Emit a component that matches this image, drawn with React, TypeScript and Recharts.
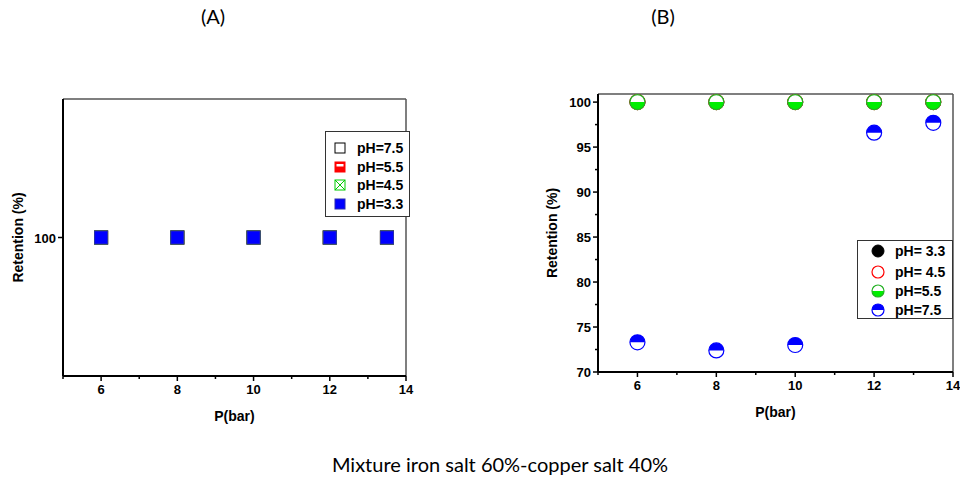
import { ScatterChart, Scatter, XAxis, YAxis, ReferenceLine, Legend, Label } from "recharts"

// pressure (bar) shared by both panels
const pressure = [6, 8, 10, 12, 13.5]
const xTicks = [5, 6, 7, 8, 9, 10, 11, 12, 13, 14]
const xLabels = [6, 8, 10, 12, 14]

// panel (A) retention (%)
const retA_pH75 = [100, 100, 100, 100, 100]
const retA_pH55 = [100, 100, 100, 100, 100]
const retA_pH45 = [100, 100, 100, 100, 100]
const retA_pH33 = [100, 100, 100, 100, 100]
const yTicksA = [100]

// panel (B) retention (%)
const retB_pH33 = [100, 100, 100, 100, 100]
const retB_pH45 = [100, 100, 100, 100, 100]
const retB_pH55 = [100, 100, 100, 100, 100]
const retB_pH75 = [73.3, 72.4, 73.0, 96.6, 97.7]
const yTicksB = [70, 72.5, 75, 77.5, 80, 82.5, 85, 87.5, 90, 92.5, 95, 97.5, 100]
const yLabelsB = [70, 75, 80, 85, 90, 95, 100]

const toPoints = (ys: number[]) => pressure.map((p, i) => ({ p, r: ys[i] }))

const boldFont = { fontFamily: "Liberation Sans, Arial, sans-serif", fontWeight: 700, fontSize: 13, fill: "#000" }
const captionFont = { fontFamily: "Lato, sans-serif", fontSize: 20, color: "#000" }

function XTick({ x, y, payload }: any) {
  const major = xLabels.includes(payload.value)
  return (
    <g>
      <line x1={x} x2={x} y1={y} y2={y + (major ? 5 : 3)} stroke="#000" strokeWidth={1.5} />
      {major && (
        <text x={x} y={y + 18} textAnchor="middle" style={boldFont}>
          {payload.value}
        </text>
      )}
    </g>
  )
}

const makeYTick = (labels: number[]) =>
  function YTick({ x, y, payload }: any) {
    const major = labels.includes(payload.value)
    return (
      <g>
        <line x1={x - (major ? 5 : 3)} x2={x} y1={y} y2={y} stroke="#000" strokeWidth={1.5} />
        {major && (
          <text x={x - 7} y={y + 5} textAnchor="end" style={boldFont}>
            {payload.value}
          </text>
        )}
      </g>
    )
  }

const yLabel = (dx: number) => ({ viewBox }: any) => {
  const cx = viewBox.x + dx
  const cy = viewBox.y + viewBox.height / 2
  return (
    <text x={cx} y={cy + 5} transform={`rotate(-90 ${cx} ${cy})`} textAnchor="middle" style={{ ...boldFont, fontSize: 14 }}>
      Retention (%)
    </text>
  )
}

const xLabel = ({ viewBox }: any) => (
  <text x={viewBox.x + viewBox.width / 2} y={viewBox.y + 45} textAnchor="middle" style={{ ...boldFont, fontSize: 14 }}>
    P(bar)
  </text>
)

// square markers (A)
const Sq = ({ cx, cy, kind, s = 13 }: any) => {
  const h = s / 2
  if (kind === "open") return <rect x={cx - h} y={cy - h} width={s} height={s} fill="#fff" stroke="#000" strokeWidth={1} />
  if (kind === "red")
    return (
      <g>
        <rect x={cx - h} y={cy - h} width={s} height={s} fill="#ff0000" stroke="#ff0000" strokeWidth={1} />
        <rect x={cx - h + 1.5} y={cy - h + 2} width={s - 3} height={s / 2 - 2.5} fill="#fff" />
      </g>
    )
  if (kind === "cross")
    return (
      <g stroke="#00cc00" strokeWidth={1} fill="#fff">
        <rect x={cx - h} y={cy - h} width={s} height={s} />
        <line x1={cx - h} y1={cy - h} x2={cx + h} y2={cy + h} />
        <line x1={cx - h} y1={cy + h} x2={cx + h} y2={cy - h} />
      </g>
    )
  return <rect x={cx - h} y={cy - h} width={s} height={s} fill="#0000ff" stroke="#2a2ab0" strokeWidth={1} />
}

// circle markers (B)
const Circ = ({ cx, cy, kind, size = 7.5 }: any) => {
  const r = size
  const top = `M${cx - r},${cy} A${r},${r} 0 0 1 ${cx + r},${cy} Z`
  const bottom = `M${cx - r},${cy} A${r},${r} 0 0 0 ${cx + r},${cy} Z`
  if (kind === "black") return <circle cx={cx} cy={cy} r={r} fill="#000" stroke="#000" />
  if (kind === "red") return <circle cx={cx} cy={cy} r={r} fill="#fff" stroke="#ff0000" strokeWidth={1.2} />
  if (kind === "green")
    return (
      <g>
        <circle cx={cx} cy={cy} r={r} fill="#fff" />
        <path d={bottom} fill="#00ee00" />
        <circle cx={cx} cy={cy} r={r} fill="none" stroke="#22b022" strokeWidth={1.2} />
      </g>
    )
  return (
    <g>
      <circle cx={cx} cy={cy} r={r} fill="#fff" />
      <path d={top} fill="#0000ff" />
      <circle cx={cx} cy={cy} r={r} fill="none" stroke="#0000ff" strokeWidth={1.2} />
    </g>
  )
}

function LegendBox({ rows, width, height, rowTops, markerX, textX }: any) {
  return (
    <div style={{ position: "relative", width, height, boxSizing: "border-box", border: "1px solid #333", background: "#fff" }}>
      {rows.map((row: any, i: number) => (
        <div key={row.label} style={{ position: "absolute", left: 0, top: rowTops[i] - 9, height: 18, width: "100%" }}>
          <svg width={16} height={16} style={{ position: "absolute", left: markerX - 8, top: 1 }}>
            {row.icon}
          </svg>
          <span style={{ position: "absolute", left: textX, top: 0, fontFamily: boldFont.fontFamily, fontWeight: 700, fontSize: 14, lineHeight: "18px", whiteSpace: "nowrap" }}>
            {row.label}
          </span>
        </div>
      ))}
    </div>
  )
}

const legendA = [
  { label: "pH=7.5", icon: <Sq cx={8} cy={8} s={10} kind="open" /> },
  { label: "pH=5.5", icon: <Sq cx={8} cy={8} s={10} kind="red" /> },
  { label: "pH=4.5", icon: <Sq cx={8} cy={8} s={10} kind="cross" /> },
  { label: "pH=3.3", icon: <Sq cx={8} cy={8} s={10} kind="blue" /> },
]

const legendB = [
  { label: "pH= 3.3", icon: <Circ cx={8} cy={8} size={6} kind="black" /> },
  { label: "pH= 4.5", icon: <Circ cx={8} cy={8} size={6} kind="red" /> },
  { label: "pH=5.5", icon: <Circ cx={8} cy={8} size={6} kind="green" /> },
  { label: "pH=7.5", icon: <Circ cx={8} cy={8} size={6} kind="blue" /> },
]

const sq = (kind: string) => (p: any) => <Sq cx={p.cx} cy={p.cy} kind={kind} />
const circ = (kind: string) => (p: any) => <Circ cx={p.cx} cy={p.cy} kind={kind} />

export default function App() {
  return (
    <div style={{ position: "absolute", left: 0, top: 0, width: 960, height: 479, background: "#fff", overflow: "hidden" }}>
      <div style={{ position: "absolute", left: 0, top: 0 }}>
        <ScatterChart width={480} height={479} margin={{ top: 99, right: 74, bottom: 73, left: 23 }}>
          <XAxis
            type="number"
            dataKey="p"
            domain={[5, 14]}
            ticks={xTicks}
            interval={0}
            tickSize={0}
            tickMargin={0}
            height={30}
            tick={<XTick />}
            axisLine={{ stroke: "#000", strokeWidth: 2 }}
            label={<Label content={xLabel} />}
          />
          <YAxis
            type="number"
            dataKey="r"
            domain={[99, 101]}
            ticks={yTicksA}
            interval={0}
            tickSize={0}
            tickMargin={0}
            width={40}
            tick={makeYTick(yTicksA)}
            axisLine={{ stroke: "#000", strokeWidth: 2 }}
            label={<Label content={yLabel(-5)} />}
          />
          <ReferenceLine y={101} stroke="#555" strokeWidth={1.5} />
          <ReferenceLine x={14} stroke="#555" strokeWidth={1.5} />
          <Scatter name="pH=7.5" data={toPoints(retA_pH75)} shape={sq("open")} isAnimationActive={false} />
          <Scatter name="pH=5.5" data={toPoints(retA_pH55)} shape={sq("red")} isAnimationActive={false} />
          <Scatter name="pH=4.5" data={toPoints(retA_pH45)} shape={sq("cross")} isAnimationActive={false} />
          <Scatter name="pH=3.3" data={toPoints(retA_pH33)} shape={sq("blue")} isAnimationActive={false} />
          <Legend
            layout="horizontal"
            verticalAlign="middle"
            align="center"
            wrapperStyle={{ left: 325, top: 131, width: 85, height: 86 }}
            content={() => <LegendBox rows={legendA} width={85} height={86} rowTops={[16, 35, 53, 72]} markerX={14} textX={31} />}
          />
        </ScatterChart>
      </div>

      <div style={{ position: "absolute", left: 480, top: 0 }}>
        <ScatterChart width={480} height={479} margin={{ top: 94, right: 7, bottom: 77, left: 78 }}>
          <XAxis
            type="number"
            dataKey="p"
            domain={[5, 14]}
            ticks={xTicks}
            interval={0}
            tickSize={0}
            tickMargin={0}
            height={30}
            tick={<XTick />}
            axisLine={{ stroke: "#000", strokeWidth: 2 }}
            label={<Label content={xLabel} />}
          />
          <YAxis
            type="number"
            dataKey="r"
            domain={[70, 100.9]}
            ticks={yTicksB}
            interval={0}
            tickSize={0}
            tickMargin={0}
            width={40}
            tick={makeYTick(yLabelsB)}
            axisLine={{ stroke: "#000", strokeWidth: 2 }}
            label={<Label content={yLabel(-6)} />}
          />
          <ReferenceLine y={100.9} stroke="#555" strokeWidth={1.5} />
          <ReferenceLine x={14} stroke="#555" strokeWidth={1.5} />
          <Scatter name="pH= 3.3" data={toPoints(retB_pH33)} shape={circ("black")} isAnimationActive={false} />
          <Scatter name="pH= 4.5" data={toPoints(retB_pH45)} shape={circ("red")} isAnimationActive={false} />
          <Scatter name="pH=5.5" data={toPoints(retB_pH55)} shape={circ("green")} isAnimationActive={false} />
          <Scatter name="pH=7.5" data={toPoints(retB_pH75)} shape={circ("blue")} isAnimationActive={false} />
          <Legend
            layout="horizontal"
            verticalAlign="middle"
            align="center"
            wrapperStyle={{ left: 377, top: 240, width: 96, height: 79 }}
            content={() => <LegendBox rows={legendB} width={96} height={79} rowTops={[10, 31, 50, 69]} markerX={20} textX={37} />}
          />
        </ScatterChart>
      </div>

      <div style={{ ...captionFont, position: "absolute", left: 163, top: 4, width: 100, textAlign: "center" }}>(A)</div>
      <div style={{ ...captionFont, position: "absolute", left: 613, top: 4, width: 100, textAlign: "center" }}>(B)</div>
      <div style={{ ...captionFont, position: "absolute", left: 20, top: 452, width: 960, textAlign: "center" }}>
        Mixture iron salt 60%-copper salt 40%
      </div>
    </div>
  )
}
